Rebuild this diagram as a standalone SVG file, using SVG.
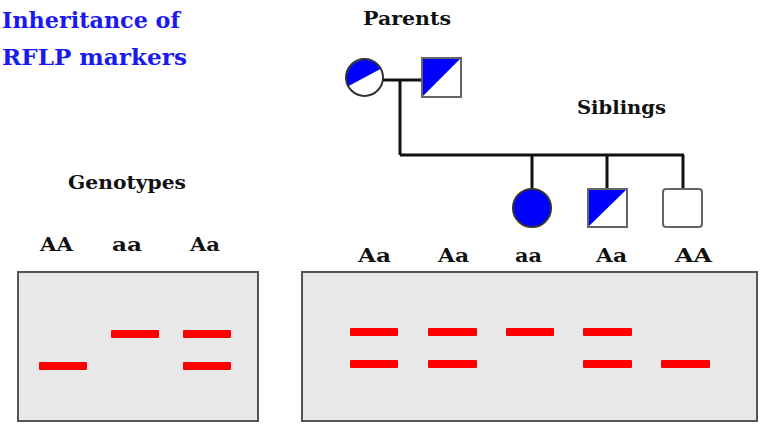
<svg xmlns="http://www.w3.org/2000/svg" width="761" height="424" viewBox="0 0 761 424">
<style>
.t{font-family:"DejaVu Serif","Liberation Serif",serif;font-weight:bold;fill:#111}
.title{font-family:"DejaVu Serif","Liberation Serif",serif;font-weight:bold;fill:#1a1af0;font-size:23px}
.lbl{font-size:18px}
.gel{fill:#e8e8e8;stroke:#555;stroke-width:2}
.band{fill:#ff0000}
.ln{stroke:#111;stroke-width:3;fill:none}
.sym{stroke:#666;stroke-width:2}
.blue{fill:#0000ff}
</style>
<rect width="761" height="424" fill="#fff"/>
<g id="title">
<text class="title" x="2" y="28" textLength="178" lengthAdjust="spacingAndGlyphs">Inheritance of</text>
<text class="title" x="2" y="65" textLength="185" lengthAdjust="spacingAndGlyphs">RFLP markers</text>
</g>
<g id="labels">
<text class="t" x="363" y="25" font-size="19" textLength="88" lengthAdjust="spacingAndGlyphs">Parents</text>
<text class="t" x="577" y="114" font-size="19" textLength="89" lengthAdjust="spacingAndGlyphs">Siblings</text>
<text class="t" x="68" y="189" font-size="19" textLength="118" lengthAdjust="spacingAndGlyphs">Genotypes</text>
<text class="t lbl" x="40" y="251" textLength="33" lengthAdjust="spacingAndGlyphs">AA</text>
<text class="t lbl" x="112" y="251" textLength="30" lengthAdjust="spacingAndGlyphs">aa</text>
<text class="t lbl" x="190" y="251" textLength="30" lengthAdjust="spacingAndGlyphs">Aa</text>
<text class="t lbl" x="358" y="262" textLength="33" lengthAdjust="spacingAndGlyphs">Aa</text>
<text class="t lbl" x="438" y="262" textLength="31" lengthAdjust="spacingAndGlyphs">Aa</text>
<text class="t lbl" x="515" y="262" textLength="27" lengthAdjust="spacingAndGlyphs">aa</text>
<text class="t lbl" x="596" y="262" textLength="31" lengthAdjust="spacingAndGlyphs">Aa</text>
<text class="t lbl" x="675" y="262" textLength="37" lengthAdjust="spacingAndGlyphs">AA</text>
</g>
<g id="connectors">
<line class="ln" x1="383" y1="80" x2="422" y2="80"/>
<line class="ln" x1="400" y1="80" x2="400" y2="155"/>
<line class="ln" x1="400" y1="155" x2="684" y2="155"/>
<line class="ln" x1="532" y1="155" x2="532" y2="190"/>
<line class="ln" x1="607" y1="155" x2="607" y2="190"/>
<line class="ln" x1="683" y1="155" x2="683" y2="190"/>
</g>
<g id="mother">
<circle cx="364.5" cy="77.5" r="18.5" fill="#fff"/>
<path class="blue" d="M348.2 86.2 A18.5 18.5 0 0 1 380.8 68.8 Z"/>
<circle cx="364.5" cy="77.5" r="18.5" fill="none" stroke="#333" stroke-width="2"/>
</g>
<g id="father">
<rect x="422" y="58" width="39" height="39" fill="#fff"/>
<path class="blue" d="M422 58 L461 58 L422 97 Z"/>
<rect class="sym" x="422" y="58" width="39" height="39" fill="none"/>
</g>
<g id="daughter">
<circle cx="532" cy="208" r="19" fill="#0000ff" stroke="#333" stroke-width="2"/>
</g>
<g id="son1">
<rect x="588" y="189" width="39" height="38" fill="#fff"/>
<path class="blue" d="M588 189 L627 189 L588 227 Z"/>
<rect class="sym" x="588" y="189" width="39" height="38" fill="none"/>
</g>
<g id="son2">
<rect class="sym" x="663" y="189" width="39" height="38" rx="3" fill="#fff"/>
</g>
<g id="gel-left">
<rect class="gel" x="18" y="272" width="240" height="149"/>
<rect class="band" x="39" y="362" width="48" height="8" rx="1"/>
<rect class="band" x="111" y="330" width="48" height="8" rx="1"/>
<rect class="band" x="183" y="330" width="48" height="8" rx="1"/>
<rect class="band" x="183" y="362" width="48" height="8" rx="1"/>
</g>
<g id="gel-right">
<rect class="gel" x="302" y="272" width="455" height="149"/>
<rect class="band" x="350" y="328" width="48" height="8" rx="1"/>
<rect class="band" x="350" y="360" width="48" height="8" rx="1"/>
<rect class="band" x="428" y="328" width="49" height="8" rx="1"/>
<rect class="band" x="428" y="360" width="49" height="8" rx="1"/>
<rect class="band" x="506" y="328" width="48" height="8" rx="1"/>
<rect class="band" x="583" y="328" width="49" height="8" rx="1"/>
<rect class="band" x="583" y="360" width="49" height="8" rx="1"/>
<rect class="band" x="661" y="360" width="49" height="8" rx="1"/>
</g>
</svg>
